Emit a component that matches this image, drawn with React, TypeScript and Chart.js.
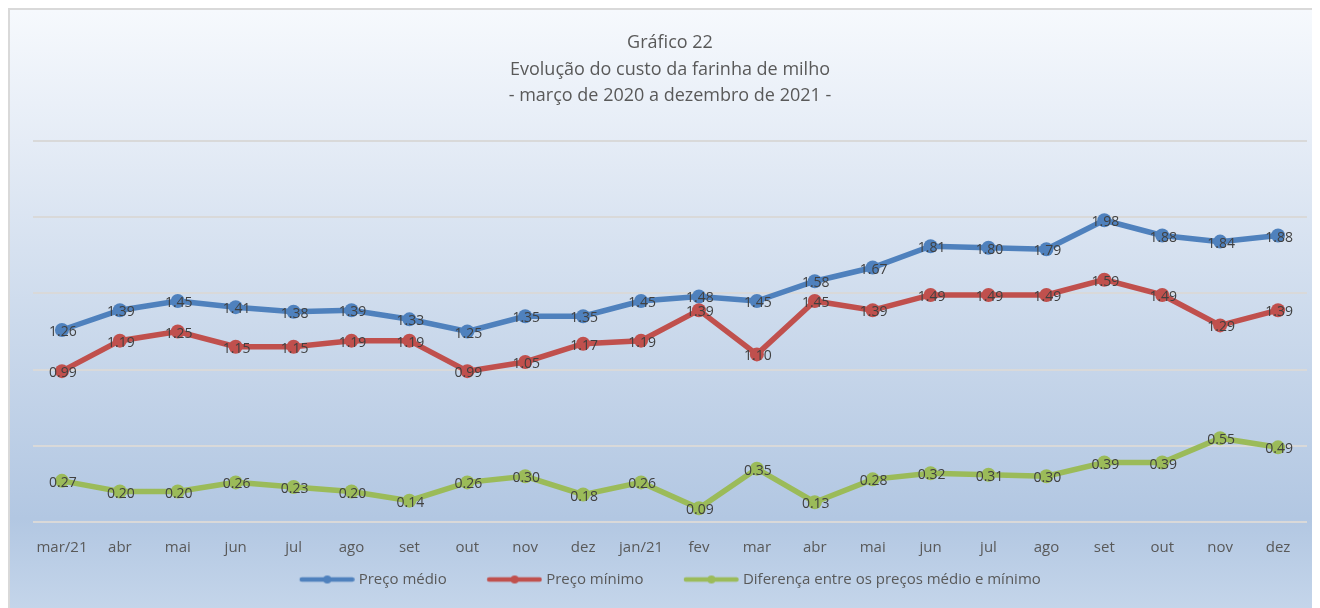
import React, { useEffect, useRef } from "react";
import { Chart, registerables } from "chart.js";

Chart.register(...registerables);

const categories = [
  "mar/21", "abr", "mai", "jun", "jul", "ago", "set", "out", "nov", "dez", "jan/21",
  "fev", "mar", "abr", "mai", "jun", "jul", "ago", "set", "out", "nov", "dez",
];
const precoMedio = [
  1.26, 1.39, 1.45, 1.41, 1.38, 1.39, 1.33, 1.25, 1.35, 1.35, 1.45,
  1.48, 1.45, 1.58, 1.67, 1.81, 1.8, 1.79, 1.98, 1.88, 1.84, 1.88,
];
const precoMinimo = [
  0.99, 1.19, 1.25, 1.15, 1.15, 1.19, 1.19, 0.99, 1.05, 1.17, 1.19,
  1.39, 1.1, 1.45, 1.39, 1.49, 1.49, 1.49, 1.59, 1.49, 1.29, 1.39,
];
const diferenca = [
  0.27, 0.2, 0.2, 0.26, 0.23, 0.2, 0.14, 0.26, 0.3, 0.18, 0.26,
  0.09, 0.35, 0.13, 0.28, 0.32, 0.31, 0.3, 0.39, 0.39, 0.55, 0.49,
];
const yTicks = [0, 0.5, 1, 1.5, 2, 2.5];
const titleLines = [
  "Gráfico 22",
  "Evolução do custo da farinha de milho",
  "- março de 2020 a dezembro de 2021 -",
];
const seriesNames = [
  "Preço médio",
  "Preço mínimo",
  "Diferença entre os preços médio e mínimo",
];
const seriesColors = ["#4f81bd", "#c0504d", "#9bbb59"];

const FONT = '"Open Sans", "Noto Sans", sans-serif';

function legendIcon(color: string): HTMLCanvasElement {
  const c = document.createElement("canvas");
  c.width = 84;
  c.height = 12;
  const ctx = c.getContext("2d")!;
  ctx.strokeStyle = color;
  ctx.lineWidth = 4.5;
  ctx.lineCap = "round";
  ctx.beginPath();
  ctx.moveTo(31, 6);
  ctx.lineTo(81.5, 6);
  ctx.stroke();
  ctx.fillStyle = color;
  ctx.beginPath();
  ctx.arc(56.5, 6, 4, 0, Math.PI * 2);
  ctx.fill();
  return c;
}

const valueLabels = {
  id: "valueLabels",
  afterDatasetsDraw(chart: any) {
    const ctx = chart.ctx;
    ctx.save();
    ctx.font = `14px ${FONT}`;
    ctx.fillStyle = "#404040";
    ctx.textAlign = "center";
    ctx.textBaseline = "middle";
    chart.data.datasets.forEach((ds: any, i: number) => {
      const meta = chart.getDatasetMeta(i);
      meta.data.forEach((pt: any, j: number) => {
        ctx.fillText(Number(ds.data[j]).toFixed(2), pt.x + 1, pt.y + 2);
      });
    });
    ctx.restore();
  },
};

// centre the visible legend row and lift it to its place under the axis labels
const legendShift = {
  id: "legendShift",
  afterLayout(chart: any) {
    const l = chart.legend;
    if (l) {
      l.left -= 12.5;
      l.right -= 12.5;
      l.top -= 17;
      l.bottom -= 17;
    }
  },
};

export default function App() {
  const ref = useRef<HTMLCanvasElement>(null);

  useEffect(() => {
    document.documentElement.style.overflow = "hidden";
    document.body.style.overflow = "hidden";
    const icons = seriesColors.map(legendIcon);
    const seriesData = [precoMedio, precoMinimo, diferenca];
    const chart = new Chart(ref.current!, {
      type: "line",
      data: {
        labels: categories,
        datasets: seriesData.map((d, i) => ({
          label: seriesNames[i],
          data: d,
          borderColor: seriesColors[i],
          backgroundColor: seriesColors[i],
          pointBackgroundColor: seriesColors[i],
          pointBorderWidth: 0,
          pointRadius: 7,
          pointHoverRadius: 7,
          borderWidth: 5.5,
          tension: 0,
          clip: false as any,
          order: 3 - i,
        })),
      },
      options: {
        animation: false,
        responsive: false,
        events: [],
        layout: { padding: { left: 23, right: 13, top: 0, bottom: -6 } },
        scales: {
          x: {
            offset: true,
            grid: { display: false, drawTicks: false },
            border: { display: false },
            ticks: {
              color: "#595959",
              font: { family: FONT, size: 15 },
              padding: 17,
              autoSkip: false,
              maxRotation: 0,
            },
          },
          y: {
            min: 0,
            max: 2.5,
            afterBuildTicks: (axis: any) => {
              axis.ticks = yTicks.map((v) => ({ value: v }));
            },
            grid: { color: "#d9d9d9", lineWidth: 2, drawTicks: false },
            border: { display: false },
            ticks: { display: false },
          },
        },
        plugins: {
          tooltip: { enabled: false },
          title: {
            display: true,
            text: titleLines,
            color: "#595959",
            font: { family: FONT, size: 18, weight: "normal", lineHeight: 1.46 },
            padding: { top: 20, bottom: 32.2 },
          },
          legend: {
            position: "bottom",
            align: "center",
            title: { display: false },
            labels: {
              usePointStyle: true,
              pointStyleWidth: 77,
              padding: 15,
              color: "#595959",
              font: { family: FONT, size: 15 },
              generateLabels: (c: any) =>
                c.data.datasets.map((ds: any, i: number) => ({
                  text: ds.label,
                  pointStyle: icons[i],
                  fillStyle: seriesColors[i],
                  strokeStyle: seriesColors[i],
                  lineWidth: 0,
                  hidden: false,
                  datasetIndex: i,
                  fontColor: "#595959",
                })),
            },
          },
        },
      } as any,
      plugins: [valueLabels, legendShift],
    });
    return () => chart.destroy();
  }, []);

  return (
    <div
      style={{
        width: 1310,
        height: 598,
        borderTop: "2px solid #d9d9d9",
        borderLeft: "2px solid #d9d9d9",
        background:
          "linear-gradient(to bottom, #f6f9fd 0%, #e5ecf6 22%, #ccdaec 52%, #b2c7e2 85%, #c4d5ea 100%)",
      }}
    >
      <canvas ref={ref} width={1310} height={598} style={{ display: "block" }} />
    </div>
  );
}
